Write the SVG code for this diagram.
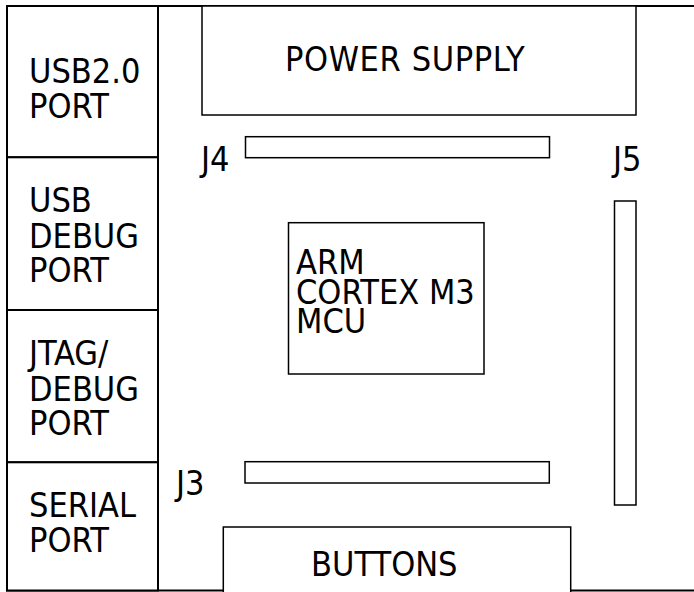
<svg xmlns="http://www.w3.org/2000/svg" width="694" height="592" viewBox="0 0 694 592">
<style>
text{font-family:"DejaVu Sans Condensed","DejaVu Sans",sans-serif;font-stretch:condensed;font-size:34px;fill:#000}
.b{fill:#fff;stroke:#000;stroke-width:2}
.c{fill:#fff;stroke:#000;stroke-width:1.5}
.l{fill:none;stroke:#000;stroke-width:2}
</style>
<rect width="694" height="592" fill="#fff"/>
<g id="board"><path class="l" d="M694 6H7V590.5H694"/></g>
<g id="usb20"><rect class="b" x="7" y="6" width="151" height="151.3"/><text x="29" y="83">USB2.0</text><text x="29" y="118">PORT</text></g>
<g id="usbdebug"><rect class="b" x="7" y="157.3" width="151" height="152.7"/><text x="29" y="212">USB</text><text x="29" y="248">DEBUG</text><text x="29" y="282">PORT</text></g>
<g id="jtag"><rect class="b" x="7" y="310" width="151" height="152.3"/><text x="29" y="365">JTAG/</text><text x="29" y="401">DEBUG</text><text x="29" y="435">PORT</text></g>
<g id="serial"><rect class="b" x="7" y="462.3" width="151" height="128.2"/><text x="29" y="517">SERIAL</text><text x="29" y="552">PORT</text></g>
<g id="power"><rect class="c" x="202" y="6" width="434" height="109"/><text x="285" y="71" letter-spacing="0.6">POWER SUPPLY</text></g>
<g id="j4"><rect class="c" x="245.5" y="136.7" width="304" height="21"/><text x="201" y="171">J4</text></g>
<g id="j5"><rect class="c" x="614.5" y="201" width="21.5" height="304"/><text x="613" y="171">J5</text></g>
<g id="mcu"><rect class="c" x="288.5" y="222.7" width="195.5" height="151.3"/><text x="296" y="274">ARM</text><text x="296" y="304">CORTEX M3</text><text x="296" y="333">MCU</text></g>
<g id="j3"><rect class="c" x="245" y="461.7" width="304.3" height="21.3"/><text x="176" y="495">J3</text></g>
<g id="buttons"><rect class="c" x="223.3" y="527" width="347.4" height="70"/><text x="311" y="576">BUTTONS</text></g>
<g id="connectors"/>
</svg>
